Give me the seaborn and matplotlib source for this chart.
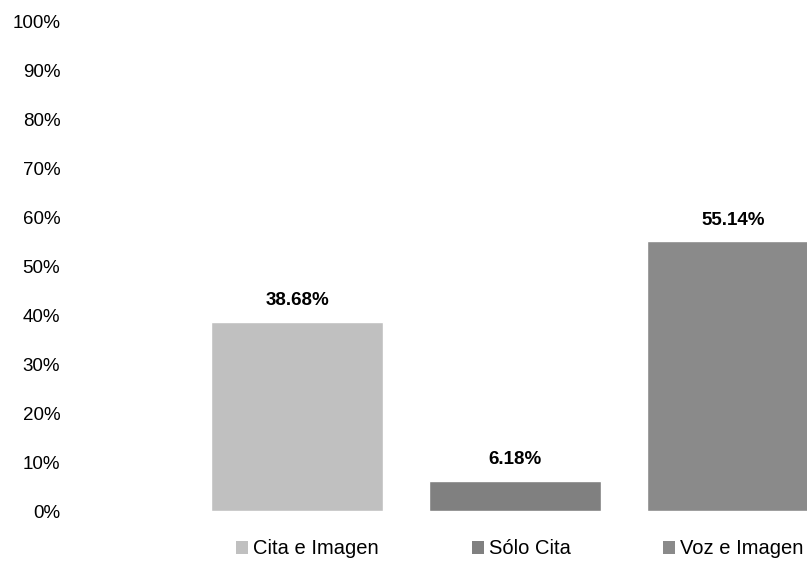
import matplotlib
matplotlib.use("Agg")
import matplotlib.pyplot as plt
import seaborn as sns
import pandas as pd
from matplotlib.patches import Patch
from matplotlib.ticker import PercentFormatter

categories = ["Cita e Imagen", "Sólo Cita", "Voz e Imagen"]
values = [0.3868, 0.0618, 0.5514]
labels = ["38.68%", "6.18%", "55.14%"]
colors = ["#C0C0C0", "#808080", "#8A8A8A"]

sns.set_style("white")
plt.rcParams["font.family"] = ["Liberation Sans", "DejaVu Sans"]
plt.rcParams["text.color"] = "black"
plt.rcParams["ytick.color"] = "black"

df = pd.DataFrame({"cat": categories, "val": values})

fig = plt.figure(figsize=(8.07, 5.64), dpi=100)
W, H = 807, 564
ax = fig.add_axes([70 / W, (H - 511) / H, (W - 70) / W, (511 - 22) / H])

sns.barplot(data=df, x="cat", y="val", hue="cat", palette=dict(zip(categories, colors)),
            width=0.79, legend=False, ax=ax, saturation=1)

for cont, lab in zip(ax.containers, labels):
    ax.bar_label(cont, labels=[lab], padding=9, fontsize=13.5, fontweight="bold", color="black")

ax.set_ylim(0, 1)
ax.set_xlim(-(297 - 70) / 218, 2 + (807 - 733) / 218)
ax.set_yticks([i / 10 for i in range(11)])
ax.yaxis.set_major_formatter(PercentFormatter(1.0, decimals=0))
ax.tick_params(axis="y", length=0, pad=7, labelsize=13.5, labelcolor="black")
ax.set_xticks([])
ax.set_xlabel("")
ax.set_ylabel("")
sns.despine(ax=ax, left=True, bottom=True)

handles = [Patch(facecolor=c, edgecolor="none") for c in colors]
fig.legend(handles, categories, loc="center", bbox_to_anchor=(520 / W, (H - 549) / H),
           ncol=3, frameon=False, fontsize=14.5, handlelength=0.6, handleheight=0.6,
           handletextpad=0.25, columnspacing=4.6, labelcolor="black")

fig.savefig("out.png", dpi=100)
